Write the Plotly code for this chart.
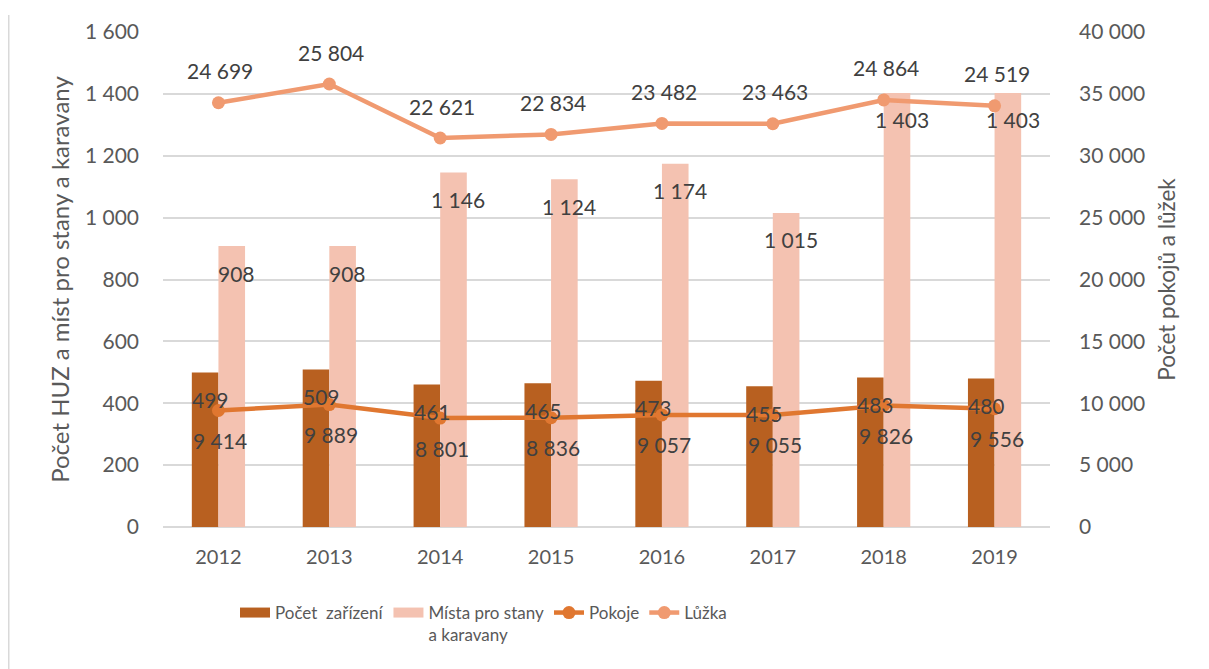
import plotly.graph_objects as go

years = ["2012", "2013", "2014", "2015", "2016", "2017", "2018", "2019"]
zarizeni = [499, 509, 461, 465, 473, 455, 483, 480]
mista = [908, 908, 1146, 1124, 1174, 1015, 1403, 1403]
pokoje = [9414, 9889, 8801, 8836, 9057, 9055, 9826, 9556]
luzka = [24699, 25804, 22621, 22834, 23482, 23463, 24864, 24519]

left_ticks = [0, 200, 400, 600, 800, 1000, 1200, 1400, 1600]
right_ticks = [0, 5000, 10000, 15000, 20000, 25000, 30000, 35000, 40000]


def fmt(v):
    return f"{v:,}".replace(",", " ")


C_DARK = "#B86020"
C_LIGHT = "#F4C2B1"
C_POK = "#E07730"
C_LUZ = "#F09A70"
TXT = "#404040"
AX = "#595959"
FONT = "Lato"

W, H = 1201, 661
L, R, T, B = 155, 159, 24, 142
PW, PH = W - L - R, H - T - B

fig = go.Figure()
# legend-only swatches for the bar series
fig.add_trace(go.Scatter(x=[None], y=[None], mode="lines", name="Počet\u00a0 zařízení",
                         line=dict(color=C_DARK, width=14), legendrank=1))
fig.add_trace(go.Scatter(x=[None], y=[None], mode="lines", name="Místa pro stany<br>a karavany",
                         line=dict(color=C_LIGHT, width=14), legendrank=2))
fig.add_trace(go.Bar(x=years, y=zarizeni, name="Počet zařízení", showlegend=False,
                     marker=dict(color=C_DARK, line=dict(width=0)), yaxis="y"))
fig.add_trace(go.Bar(x=years, y=mista, name="Místa pro stany a karavany", showlegend=False,
                     marker=dict(color=C_LIGHT, line=dict(width=0)), yaxis="y"))
fig.add_trace(go.Scatter(x=years, y=pokoje, name="Pokoje", mode="lines+markers",
                         line=dict(color=C_POK, width=4.5), legendrank=3,
                         marker=dict(size=13, color=C_POK), yaxis="y2"))
fig.add_trace(go.Scatter(x=years, y=luzka, name="Lůžka", mode="lines+markers",
                         line=dict(color=C_LUZ, width=4.5), legendrank=4,
                         marker=dict(size=13, color=C_LUZ), yaxis="y3"))

ann = []
for i, y in enumerate(years):
    ann.append(dict(x=i, y=zarizeni[i], xref="x", yref="y", text=fmt(zarizeni[i]),
                    showarrow=False, xshift=-8, yshift=-27))
    ann.append(dict(x=i, y=mista[i], xref="x", yref="y", text=fmt(mista[i]),
                    showarrow=False, xshift=18, yshift=-27))
    ann.append(dict(x=i, y=pokoje[i], xref="x", yref="y2", text=fmt(pokoje[i]),
                    showarrow=False, xshift=2, yshift=-30))
    ann.append(dict(x=i, y=luzka[i], xref="x", yref="y3", text=fmt(luzka[i]),
                    showarrow=False, xshift=2, yshift=32))
for a in ann:
    a["font"] = dict(family=FONT, size=21, color=TXT)

fig.update_layout(
    width=W, height=H,
    margin=dict(l=L, r=R, t=T, b=B, autoexpand=False),
    paper_bgcolor="white", plot_bgcolor="white",
    font=dict(family=FONT, size=21, color=AX),
    barmode="group", bargap=0.52, bargroupgap=0,
    annotations=ann,
    xaxis=dict(type="category", range=[-0.5, len(years) - 0.5],
               showgrid=False, showline=False, ticks="",
               tickfont=dict(size=20, color=AX), ticklabelstandoff=16),
    yaxis=dict(range=[0, 1600], tickvals=left_ticks,
               ticktext=[fmt(v) for v in left_ticks],
               showgrid=True, gridcolor="#D9D9D9", gridwidth=1.5,
               zeroline=True, zerolinecolor="#D9D9D9", zerolinewidth=1.5,
               ticks="", ticklabelstandoff=23,
               title=dict(text="Počet HUZ a míst pro stany a karavany",
                          font=dict(size=24, color=AX), standoff=8)),
    yaxis2=dict(range=[0, 40000], tickvals=right_ticks,
                ticktext=[fmt(v) for v in right_ticks],
                overlaying="y", side="right", showgrid=False, zeroline=False,
                ticks="", ticklabelstandoff=28,
                title=dict(text="Počet pokojů a lůžek",
                           font=dict(size=22.5, color=AX), standoff=14)),
    yaxis3=dict(range=[-306, 28870], overlaying="y", visible=False),
    legend=dict(orientation="h", x=(227 - L) / PW, xanchor="left",
                y=(519 - 587) / PH, yanchor="top",
                font=dict(family=FONT, size=17, color=AX), traceorder="normal",
                itemwidth=30, valign="top"),
    shapes=[dict(type="line", xref="paper", yref="paper",
                 x0=(0.75 - L) / PW, x1=(0.75 - L) / PW,
                 y0=(519 - H) / PH, y1=(519 - 7) / PH,
                 line=dict(color="#D9D9D9", width=1.5))],
    showlegend=True,
)

fig.write_html("out.html")
